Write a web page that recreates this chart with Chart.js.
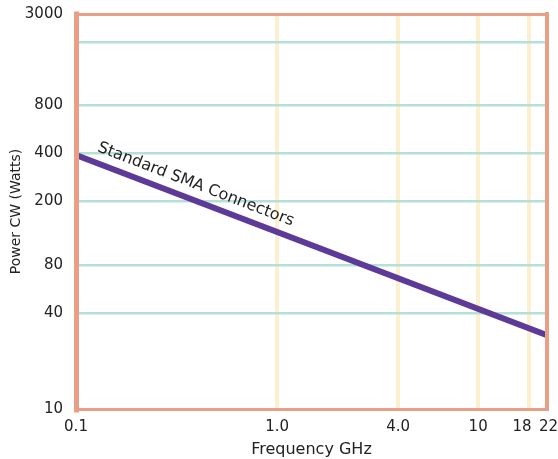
<!DOCTYPE html>
<html>
<head>
<meta charset="utf-8">
<script src="https://cdn.jsdelivr.net/npm/chart.js@4.4.1/dist/chart.umd.min.js"></script>
<style>
  html, body { margin: 0; padding: 0; background: #fff; }
  #wrap { width: 558px; height: 459px; position: relative; }
</style>
</head>
<body>
<div id="wrap"><canvas id="powerChart"></canvas></div>
<script>
// Data
const freqTicks = [0.1, 1, 4, 10, 18, 22];
// 18 and 22 sit close on a log axis; pad them apart a little like the original
const freqLabels = ['0.1', '1.0', '4.0', '10', '18\u2002\u2002', '\u200922'];
const powerTicks = [10, 40, 80, 200, 400, 800, 2000, 3000];
const powerLabels = ['10', '40', '80', '200', '400', '800', '', '3000'];
const freqGHz = [0.1, 22];
const powerW = [392, 29];
const seriesName = 'Standard SMA Connectors';

const FONT = "'DejaVu Sans', sans-serif";
const frameCol = '#E99E86';
const clear = 'rgba(0,0,0,0)';

// orange frame round the plot + label along the line
const framePlugin = {
    id: 'frame',
    afterDatasetsDraw(chart) {
        const { ctx, chartArea: a } = chart;
        ctx.save();
        ctx.strokeStyle = frameCol;
        ctx.lineCap = 'square';
        const side = (w, x1, y1, x2, y2) => {
            ctx.lineWidth = w;
            ctx.beginPath(); ctx.moveTo(x1, y1); ctx.lineTo(x2, y2); ctx.stroke();
        };
        side(3, a.left, a.top + 0.5, a.right, a.top + 0.5);
        side(4, a.right, a.top, a.right, a.bottom);
        side(3, a.left, a.bottom + 0.5, a.right, a.bottom + 0.5);
        side(5, a.left + 0.5, a.top, a.left + 0.5, a.bottom + 1);

        // series label, rotated with the line
        const pts = chart.getDatasetMeta(0).data;
        const p0 = pts[0], p1 = pts[pts.length - 1];
        const ang = Math.atan2(p1.y - p0.y, p1.x - p0.x);
        ctx.translate(p0.x, p0.y);
        ctx.rotate(ang);
        ctx.fillStyle = '#222';
        ctx.font = '16px ' + FONT;
        ctx.textBaseline = 'alphabetic';
        ctx.fillText(seriesName, 18, -11);
        ctx.restore();
    }
};

new Chart(document.getElementById('powerChart'), {
    type: 'line',
    data: {
        datasets: [{
            label: seriesName,
            data: freqGHz.map((f, i) => ({ x: f, y: powerW[i] })),
            borderColor: '#5D3A98',
            borderWidth: 6,
            pointRadius: 0,
            fill: false
        }]
    },
    options: {
        responsive: true,
        maintainAspectRatio: false,
        animation: false,
        layout: { padding: { top: 14, right: 11, left: 0, bottom: 0 } },
        plugins: { legend: { display: false }, tooltip: { enabled: false } },
        scales: {
            x: {
                type: 'logarithmic',
                min: 0.1, max: 22,
                afterBuildTicks: s => { s.ticks = freqTicks.map(v => ({ value: v })); },
                afterFit: s => { s.height = 50; s.paddingLeft = 0; s.paddingRight = 0; },
                border: { display: false },
                grid: {
                    drawTicks: false,
                    lineWidth: 4,
                    color: c => (c.tick && (c.tick.value === 0.1 || c.tick.value === 22)) ? clear : '#FDF0CE'
                },
                ticks: {
                    autoSkip: false, maxRotation: 0, padding: 9,
                    color: '#222', font: { family: FONT, size: 15 },
                    callback: (v, i) => freqLabels[i]
                },
                title: {
                    display: true, text: 'Frequency GHz', color: '#222',
                    font: { family: FONT, size: 16 }, padding: { top: 0, bottom: 0 }
                }
            },
            y: {
                type: 'logarithmic',
                min: 10, max: 3000,
                afterBuildTicks: s => { s.ticks = powerTicks.map(v => ({ value: v })); },
                afterFit: s => { s.width = 76; s.paddingTop = 0; s.paddingBottom = 0; },
                border: { display: false },
                grid: {
                    drawTicks: false,
                    lineWidth: 2.5,
                    color: c => (c.tick && (c.tick.value === 10 || c.tick.value === 3000)) ? clear : '#B5DFD9'
                },
                ticks: {
                    autoSkip: false, padding: 13,
                    color: '#222', font: { family: FONT, size: 15 },
                    callback: (v, i) => powerLabels[i]
                },
                title: {
                    display: true, text: 'Power CW (Watts)', color: '#222',
                    font: { family: FONT, size: 14 }, padding: { top: 8, bottom: 0 }
                }
            }
        }
    },
    plugins: [framePlugin]
});
</script>
</body>
</html>
